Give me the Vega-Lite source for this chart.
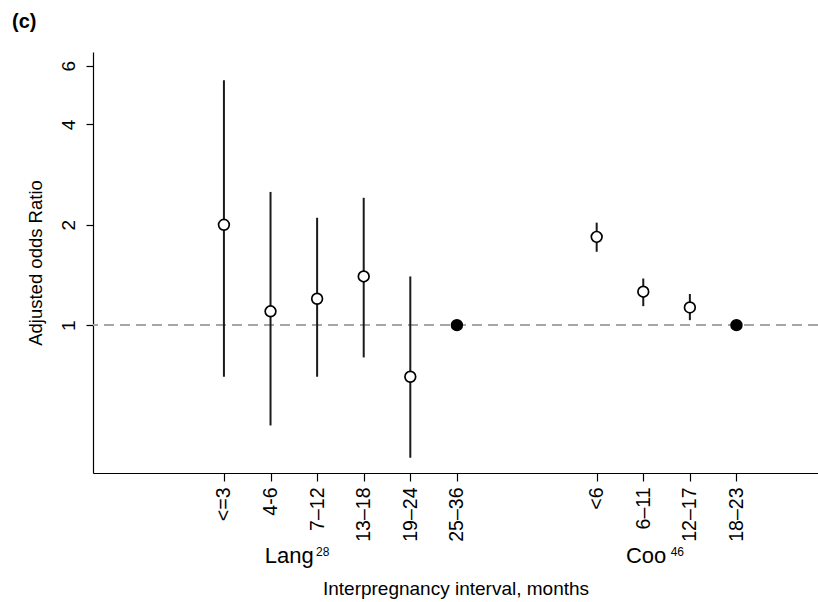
{
  "$schema": "https://vega.github.io/schema/vega-lite/v6.json",
  "autosize": "none",
  "width": 725,
  "height": 421,
  "padding": {"left": 93, "top": 52, "right": 0, "bottom": 129},
  "background": "white",
  "config": {
    "font": "Liberation Sans",
    "view": {"stroke": null},
    "axis": {"grid": false, "domainColor": "#000", "tickColor": "#000", "labelColor": "#000", "titleColor": "#000", "titleFontWeight": "normal", "domainWidth": 1.2, "tickWidth": 1.2}
  },
  "title": {"text": "(c)", "anchor": "start", "frame": "group", "dx": -81, "offset": 20, "fontSize": 20, "fontWeight": "bold", "color": "#000"},
  "datasets": {
    "est": [
      {"label": "<=3", "group": "Lang", "pos": 3, "or": 2.0, "lo": 0.70, "hi": 5.43, "ref": "no"},
      {"label": "4-6", "group": "Lang", "pos": 4, "or": 1.10, "lo": 0.50, "hi": 2.51, "ref": "no"},
      {"label": "7–12", "group": "Lang", "pos": 5, "or": 1.20, "lo": 0.70, "hi": 2.10, "ref": "no"},
      {"label": "13–18", "group": "Lang", "pos": 6, "or": 1.40, "lo": 0.80, "hi": 2.41, "ref": "no"},
      {"label": "19–24", "group": "Lang", "pos": 7, "or": 0.70, "lo": 0.40, "hi": 1.40, "ref": "no"},
      {"label": "25–36", "group": "Lang", "pos": 8, "or": 1.0, "lo": null, "hi": null, "ref": "yes"},
      {"label": "<6", "group": "Coo", "pos": 11, "or": 1.84, "lo": 1.66, "hi": 2.03, "ref": "no"},
      {"label": "6–11", "group": "Coo", "pos": 12, "or": 1.26, "lo": 1.14, "hi": 1.38, "ref": "no"},
      {"label": "12–17", "group": "Coo", "pos": 13, "or": 1.13, "lo": 1.035, "hi": 1.24, "ref": "no"},
      {"label": "18–23", "group": "Coo", "pos": 14, "or": 1.0, "lo": null, "hi": null, "ref": "yes"}
    ],
    "groups": [
      {"name": "Lang", "sup": "28", "pos": 4.39, "suppos": 5.11},
      {"name": "Coo", "sup": "46", "pos": 12.05, "suppos": 12.72}
    ]
  },
  "resolve": {"axis": {"x": "independent"}},
  "layer": [
    {
      "data": {"name": "est"},
      "mark": {"type": "rule", "color": "#a6a6a6", "strokeDash": [10, 6], "strokeWidth": 1.5},
      "encoding": {
        "y": {"datum": 1, "type": "quantitative", "scale": {"type": "log", "domain": [0.36, 6.6], "nice": false}}
      }
    },
    {
      "data": {"name": "est"},
      "transform": [{"filter": "datum.lo != null"}],
      "mark": {"type": "rule", "color": "#1a1a1a", "strokeWidth": 2},
      "encoding": {
        "x": {"field": "pos", "type": "quantitative", "scale": {"domain": [0.19, 15.75], "nice": false, "zero": false},
          "axis": {"orient": "bottom", "values": [3, 4, 5, 6, 7, 8, 11, 12, 13, 14],
            "labelExpr": "['','','','<=3','4-6','7–12','13–18','19–24','25–36','','','<6','6–11','12–17','18–23'][datum.value]",
            "labelAngle": -90, "labelAlign": "right", "labelBaseline": "middle", "labelFontSize": 19.5, "labelPadding": 6,
            "tickSize": 8, "labelOverlap": false, "labelFlush": false,
            "title": "Interpregnancy interval, months", "titleFontSize": 19, "titlePadding": 38}},
        "y": {"field": "lo", "type": "quantitative", "scale": {"type": "log", "domain": [0.36, 6.6], "nice": false},
          "axis": {"values": [1, 2, 4, 6], "labelAngle": -90, "labelAlign": "center", "labelBaseline": "bottom", "labelFontSize": 19,
            "labelPadding": 8, "tickSize": 7, "title": "Adjusted  odds Ratio", "titleFontSize": 18.5, "titlePadding": 14}},
        "y2": {"field": "hi"}
      }
    },
    {
      "data": {"name": "est"},
      "mark": {"type": "point", "shape": "circle", "filled": true, "size": 115, "stroke": "#000", "strokeWidth": 1.7, "opacity": 1},
      "encoding": {
        "x": {"field": "pos", "type": "quantitative", "scale": {"domain": [0.19, 15.75], "nice": false, "zero": false}, "axis": null},
        "y": {"field": "or", "type": "quantitative", "scale": {"type": "log", "domain": [0.36, 6.6], "nice": false}},
        "fill": {"field": "ref", "type": "nominal", "scale": {"domain": ["no", "yes"], "range": ["#ffffff", "#000000"]}, "legend": null}
      }
    },
    {
      "data": {"name": "groups"},
      "mark": {"type": "point", "opacity": 0},
      "encoding": {
        "x": {"field": "pos", "type": "quantitative", "scale": {"domain": [0.19, 15.75], "nice": false, "zero": false},
          "axis": {"orient": "bottom", "values": [4.39, 12.05], "labelExpr": "datum.value < 9 ? 'Lang' : 'Coo'",
            "ticks": false, "domain": false, "labelAngle": 0, "labelAlign": "center", "labelBaseline": "alphabetic",
            "labelFontSize": 22, "labelPadding": 89, "labelOverlap": false, "labelFlush": false, "title": null}}
      }
    },
    {
      "data": {"name": "groups"},
      "mark": {"type": "point", "opacity": 0},
      "encoding": {
        "x": {"field": "suppos", "type": "quantitative", "scale": {"domain": [0.19, 15.75], "nice": false, "zero": false},
          "axis": {"orient": "bottom", "values": [5.11, 12.72], "labelExpr": "datum.value < 9 ? '28' : '46'",
            "ticks": false, "domain": false, "labelAngle": 0, "labelAlign": "center", "labelBaseline": "alphabetic",
            "labelFontSize": 12, "labelPadding": 82, "labelOverlap": false, "labelFlush": false, "title": null}}
      }
    }
  ]
}
